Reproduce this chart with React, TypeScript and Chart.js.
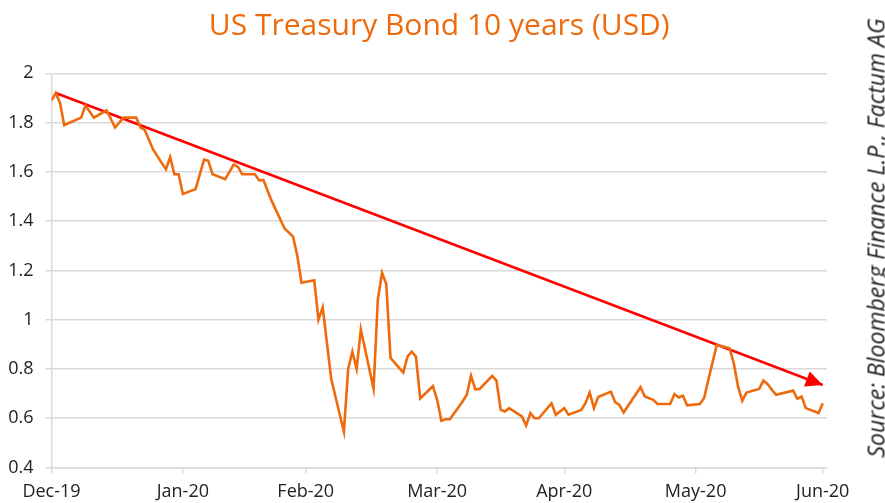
import React, { useEffect, useRef } from 'react';
import { Chart, registerables } from 'chart.js';

Chart.register(...registerables);

const TITLE = 'US Treasury Bond 10 years (USD)';
const SOURCE = 'Source: Bloomberg Finance L.P., Factum AG';

const AXIS_START = '2019-12-31';
const AXIS_END = '2020-07-01';
const tickDates = ['2019-12-31', '2020-01-31', '2020-02-29', '2020-03-31', '2020-04-30', '2020-05-31', '2020-06-30'];
const tickLabels = ['Dec-19', 'Jan-20', 'Feb-20', 'Mar-20', 'Apr-20', 'May-20', 'Jun-20'];

const dates = [
  '2019-12-31', '2020-01-01', '2020-01-02', '2020-01-03', '2020-01-07', '2020-01-08', '2020-01-10', '2020-01-13',
  '2020-01-15', '2020-01-17', '2020-01-20', '2020-01-21', '2020-01-22', '2020-01-24', '2020-01-27', '2020-01-28',
  '2020-01-29', '2020-01-30', '2020-01-31', '2020-02-03', '2020-02-04', '2020-02-05', '2020-02-06', '2020-02-07',
  '2020-02-10', '2020-02-12', '2020-02-13', '2020-02-14', '2020-02-17', '2020-02-18', '2020-02-19', '2020-02-21',
  '2020-02-24', '2020-02-26', '2020-02-27', '2020-02-28', '2020-03-02', '2020-03-03', '2020-03-04', '2020-03-06',
  '2020-03-09', '2020-03-10', '2020-03-11', '2020-03-12', '2020-03-13', '2020-03-16', '2020-03-17', '2020-03-18',
  '2020-03-19', '2020-03-20', '2020-03-23', '2020-03-24', '2020-03-25', '2020-03-26', '2020-03-27', '2020-03-30',
  '2020-03-31', '2020-04-01', '2020-04-02', '2020-04-03', '2020-04-06', '2020-04-07', '2020-04-08', '2020-04-09',
  '2020-04-10', '2020-04-13', '2020-04-14', '2020-04-15', '2020-04-16', '2020-04-17', '2020-04-20', '2020-04-21',
  '2020-04-22', '2020-04-23', '2020-04-24', '2020-04-27', '2020-04-28', '2020-04-30', '2020-05-01', '2020-05-04',
  '2020-05-05', '2020-05-06', '2020-05-07', '2020-05-08', '2020-05-11', '2020-05-12', '2020-05-13', '2020-05-14',
  '2020-05-18', '2020-05-19', '2020-05-21', '2020-05-22', '2020-05-25', '2020-05-26', '2020-05-27', '2020-05-28',
  '2020-05-29', '2020-06-01', '2020-06-02', '2020-06-03', '2020-06-05', '2020-06-08', '2020-06-09', '2020-06-10',
  '2020-06-11', '2020-06-12', '2020-06-15', '2020-06-16', '2020-06-17', '2020-06-18', '2020-06-19', '2020-06-23',
  '2020-06-24', '2020-06-25', '2020-06-26', '2020-06-29', '2020-06-30',
];

const yields = [
  1.89, 1.92, 1.88, 1.79, 1.82, 1.87, 1.82, 1.85,
  1.78, 1.82, 1.82, 1.78, 1.77, 1.69, 1.61, 1.66,
  1.59, 1.59, 1.51, 1.53, 1.59, 1.65, 1.645, 1.59,
  1.57, 1.63, 1.62, 1.59, 1.59, 1.565, 1.567, 1.48,
  1.37, 1.337, 1.26, 1.15, 1.16, 1.0, 1.05, 0.76,
  0.545, 0.8, 0.87, 0.8, 0.96, 0.72, 1.08, 1.19,
  1.145, 0.845, 0.785, 0.85, 0.87, 0.85, 0.68, 0.73,
  0.675, 0.59, 0.596, 0.596, 0.668, 0.695, 0.772, 0.718,
  0.718, 0.772, 0.753, 0.634, 0.627, 0.641, 0.607, 0.57,
  0.621, 0.6, 0.6, 0.661, 0.614, 0.641, 0.614, 0.634,
  0.661, 0.704, 0.641, 0.686, 0.708, 0.665, 0.654, 0.623,
  0.726, 0.688, 0.675, 0.658, 0.658, 0.698, 0.684, 0.691,
  0.652, 0.658, 0.682, 0.756, 0.898, 0.884, 0.824, 0.729,
  0.671, 0.704, 0.719, 0.753, 0.738, 0.715, 0.695, 0.712,
  0.679, 0.688, 0.641, 0.621, 0.661,
];

const trendDates = ['2020-01-01', '2020-06-30'];
const trendValues = [1.92, 0.735];

const Y_MIN = 0.4;
const Y_MAX = 2;
const Y_STEP = 0.2;

const ORANGE = '#EE6A0C';
const RED = '#FF0000';
const GRID = '#D9D9D9';
const FONT = "'Open Sans', 'Noto Sans', sans-serif";

const dayOf = (s: string) => (Date.parse(s) - Date.parse(AXIS_START)) / 86400000;

const arrowHead = {
  id: 'arrowHead',
  afterDatasetsDraw(chart: any) {
    const meta = chart.getDatasetMeta(1);
    if (!meta || meta.data.length < 2) return;
    const p0 = meta.data[meta.data.length - 2];
    const p1 = meta.data[meta.data.length - 1];
    const ang = Math.atan2(p1.y - p0.y, p1.x - p0.x);
    const len = 17;
    const half = 8;
    const ctx = chart.ctx;
    ctx.save();
    ctx.translate(p1.x, p1.y);
    ctx.rotate(ang);
    ctx.beginPath();
    ctx.moveTo(0, 0);
    ctx.lineTo(-len, -half);
    ctx.lineTo(-len, half);
    ctx.closePath();
    ctx.fillStyle = RED;
    ctx.fill();
    ctx.restore();
  },
};

export default function App() {
  const ref = useRef<HTMLCanvasElement | null>(null);

  useEffect(() => {
    document.body.style.margin = '0';
    if (!ref.current) return;
    const chart = new Chart(ref.current, {
      type: 'line',
      data: {
        datasets: [
          {
            data: dates.map((d, i) => ({ x: dayOf(d), y: yields[i] })),
            borderColor: ORANGE,
            borderWidth: 2.6,
            pointRadius: 0,
            tension: 0,
            fill: false,
          },
          {
            data: trendDates.map((d, i) => ({ x: dayOf(d), y: trendValues[i] })),
            borderColor: RED,
            borderWidth: 2.5,
            pointRadius: 0,
            tension: 0,
            fill: false,
            clip: false as any,
          },
        ],
      },
      options: {
        animation: false,
        responsive: false,
        maintainAspectRatio: false,
        events: [],
        layout: { padding: { left: 0, right: 58, top: 0, bottom: 0 } },
        plugins: {
          legend: { display: false },
          tooltip: { enabled: false },
          title: {
            display: true,
            fullSize: false,
            text: TITLE,
            color: ORANGE,
            font: { family: FONT, size: 30, weight: 'normal' as any, lineHeight: 1.2 },
            padding: { top: 8.5, bottom: 28.8 },
          },
        },
        scales: {
          x: {
            type: 'linear',
            min: 0,
            max: dayOf(AXIS_END),
            afterBuildTicks: (scale: any) => {
              scale.ticks = tickDates.map((d) => ({ value: dayOf(d) }));
            },
            afterFit: (scale: any) => {
              scale.height = 35.5;
            },
            grid: {
              display: true,
              drawOnChartArea: false,
              drawTicks: true,
              tickLength: 6,
              color: GRID,
              lineWidth: 1.5,
            },
            border: { display: true, color: GRID, width: 1.5 },
            ticks: {
              autoSkip: false,
              maxRotation: 0,
              minRotation: 0,
              padding: 8,
              color: '#222222',
              font: { family: FONT, size: 18 },
              callback: (_v: any, i: number) => tickLabels[i],
            },
          },
          y: {
            type: 'linear',
            min: Y_MIN,
            max: Y_MAX,
            afterFit: (scale: any) => {
              scale.width = 51.5;
            },
            grid: {
              color: GRID,
              lineWidth: 1.5,
              drawTicks: true,
              tickLength: 6,
            },
            border: { display: true, color: GRID, width: 1.5 },
            ticks: {
              stepSize: Y_STEP,
              padding: 12,
              color: '#222222',
              font: { family: FONT, size: 18 },
              callback: (v: any) => String(Number(Number(v).toFixed(1))),
            },
          },
        },
      },
      plugins: [arrowHead],
    });
    return () => chart.destroy();
  }, []);

  return (
    <div style={{ position: 'relative', width: 885, height: 503, background: '#fff' }}>
      <canvas ref={ref} width={885} height={503} style={{ display: 'block' }} />
      <div
        style={{
          position: 'absolute',
          left: 876,
          top: 238,
          transform: 'translate(-50%, -50%) rotate(-90deg)',
          whiteSpace: 'nowrap',
          fontFamily: FONT,
          fontStyle: 'italic',
          fontSize: 23,
          lineHeight: 1,
          color: '#222222',
        }}
      >
        {SOURCE}
      </div>
    </div>
  );
}
